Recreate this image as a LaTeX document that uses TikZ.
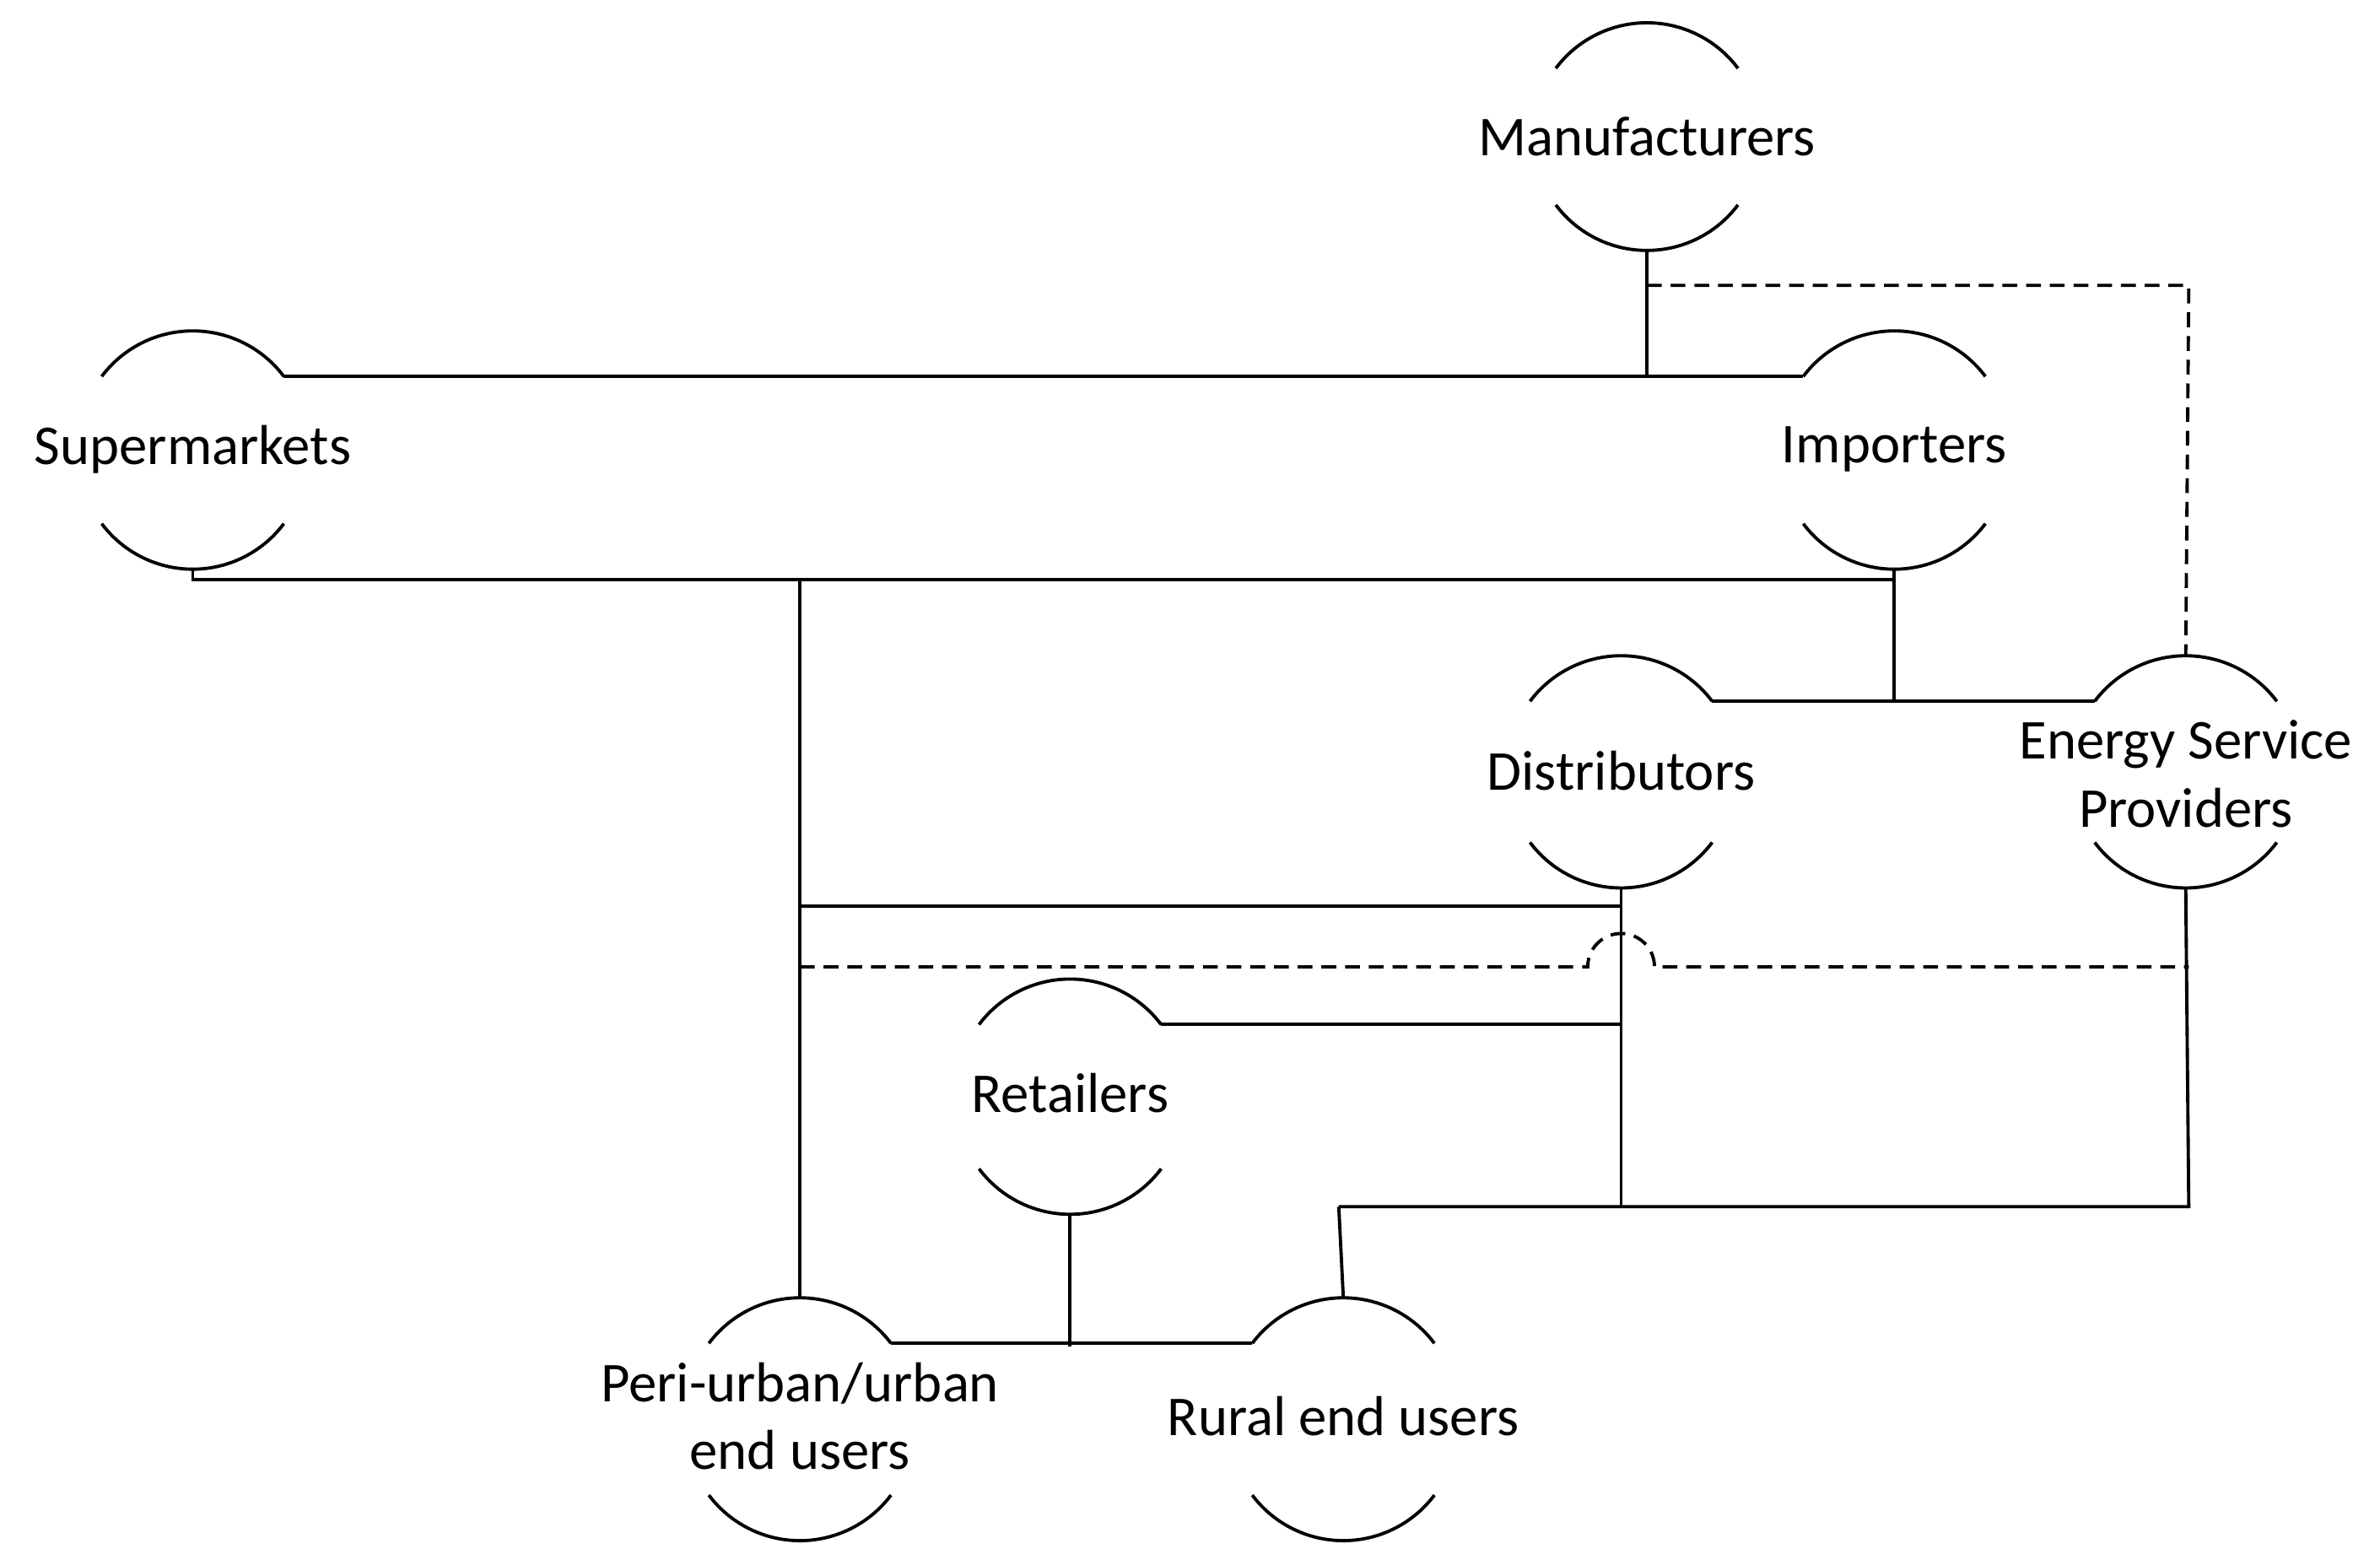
\documentclass[tikz,border=0pt]{standalone}
\usepackage{fontspec}
\setmainfont{Carlito}
\usetikzlibrary{calc}
\tikzset{
  lbl/.style={font=\fontsize{19}{23}\selectfont, align=center},
  link/.style={line width=1.1pt},
  weak/.style={line width=1.1pt, dashed, dash pattern=on 5pt off 3pt}
}
% #1 name, #2 x, #3 text y, #4 top chord y, #5 bottom chord y, #6 text
\newcommand{\actor}[6]{%
  \node[lbl] (#1) at (#2,-#3) {#6};
  \draw[link] (#2-60,-#4) arc (143.13:36.87:75);
  \draw[link] (#2-60,-#5) arc (-143.13:-36.87:75);
  \coordinate (#1-t) at (#2,-#4+30);
  \coordinate (#1-b) at (#2,-#5-30);
  \coordinate (#1-tl) at (#2-60,-#4);
  \coordinate (#1-tr) at (#2+60,-#4);
}
\begin{document}
\begin{tikzpicture}[x=0.018cm, y=0.018cm]
  \useasboundingbox (0,0) rectangle (1568,-1020);
  \actor{man}{1085}{90}{45}{135}{Manufacturers}
  \actor{sup}{127}{296}{248}{345}{Supermarkets}
  \actor{imp}{1248}{296}{248}{345}{Importers}
  \actor{dis}{1068}{508}{462}{555}{Distributors}
  \actor{esp}{1440}{510}{462}{555}{Energy Service\\Providers}
  \actor{ret}{705}{720}{675}{770}{Retailers}
  \actor{peri}{527}{933}{885}{985}{Peri-urban/urban\\end users}
  \actor{rur}{885}{933}{885}{985}{Rural end users}

  % junctions
  \coordinate (j1) at (1085,-248);
  \coordinate (j2) at (127,-382);
  \coordinate (j3) at (1248,-382);
  \coordinate (j4) at (1248,-462);
  \coordinate (j5) at (527,-382);
  \coordinate (j6) at (527,-597);
  \coordinate (j7) at (1068,-597);
  \coordinate (j8) at (1068,-675);
  \coordinate (j9) at (1068,-795);
  \coordinate (j10) at (1442,-795);
  \coordinate (j11) at (882,-795);
  \coordinate (j12) at (705,-887);
  \coordinate (d1) at (1085,-188);
  \coordinate (d2) at (1442,-188);
  \coordinate (d3) at (527,-637);
  \coordinate (d4) at (1442,-637);

  \draw[link] (man-b) -- (j1);
  \draw[link] (sup-tr) -- (imp-tl);
  \draw[link] (sup-b) -- (j2) -- (j3) -- (imp-b);
  \draw[link] (j3) -- (j4);
  \draw[link] (dis-tr) -- (esp-tl);
  \draw[link] (j5) -- (peri-t);
  \draw[link] (j6) -- (j7);
  \draw[link] (dis-b) -- (j9);
  \draw[link] (ret-tr) -- (j8);
  \draw[link] (ret-b) -- (j12);
  \draw[link] (peri-tr) -- (rur-tl);
  \draw[link] (j11) -- (j10) -- (esp-b);
  \draw[link] (j11) -- (rur-t);
  \draw[weak] (d1) -- (d2) -- (esp-t);
  \draw[weak] (d3) -- (1046,-637) arc (180:0:22) -- (d4);
\end{tikzpicture}
\end{document}
